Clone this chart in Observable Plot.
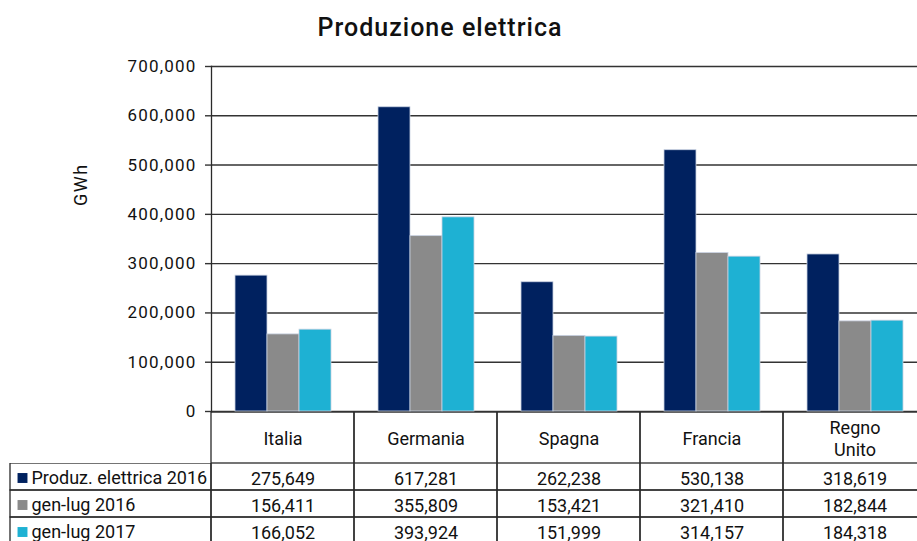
<!DOCTYPE html>
<html>
<head>
<meta charset="utf-8">
<script src="https://cdn.jsdelivr.net/npm/d3@7"></script>
<script src="https://cdn.jsdelivr.net/npm/@observablehq/plot@0.6"></script>
<style>
  html, body { margin: 0; padding: 0; background: #fff; overflow: hidden; width: 917px; height: 541px; }
  body { font-family: Roboto, "Noto Sans", sans-serif; }
  #title { width: 880px; height: 50px; box-sizing: border-box; padding-top: 14px; text-align: center;
           font-size: 25px; font-weight: 500; line-height: 28px; color: #111; letter-spacing: 1px; }
  svg { display: block; max-width: none !important; position: relative; }
  #chart svg:first-child { z-index: 2; }
  [aria-label="y-axis tick label"] { letter-spacing: 1.2px; }
  .ylab { letter-spacing: 1.5px; }
</style>
</head>
<body>
<div id="title">Produzione elettrica</div>
<div id="chart"></div>
<script>
// ---- data ----
const categories = ["Italia", "Germania", "Spagna", "Francia", "Regno Unito"];
const series = ["Produz. elettrica 2016", "gen-lug 2016", "gen-lug 2017"];
const produz2016 = [275649, 617281, 262238, 530138, 318619];
const genlug2016 = [156411, 355809, 153421, 321410, 182844];
const genlug2017 = [166052, 393924, 151999, 314157, 184318];
const yTicks = [0, 100000, 200000, 300000, 400000, 500000, 600000, 700000];
const colors = ["#00215F", "#8A8A8A", "#1EB1D3"];
const yLabel = "GWh";

const seriesValues = [produz2016, genlug2016, genlug2017];
const data = [];
categories.forEach((c, i) => series.forEach((s, j) => data.push({category: c, series: s, value: seriesValues[j][i]})));

const fmt = d3.format(",");
const font = "Roboto, 'Noto Sans', sans-serif";
const W = 917, ML = 211, MR = -9;
const lineColor = "#2a2a2a";

// ---- bar chart ----
const chart = Plot.plot({
  width: W, height: 362,
  marginLeft: ML, marginRight: MR, marginTop: 16, marginBottom: 1,
  style: {fontFamily: font, background: "transparent", overflow: "visible"},
  fx: {domain: categories, padding: 0, axis: null},
  x: {domain: series, paddingInner: 0, paddingOuter: 0.73, axis: null},
  y: {domain: [0, 700000], axis: null},
  color: {domain: series, range: colors},
  marks: [
    Plot.gridY(yTicks, {stroke: "#333", strokeOpacity: 1, strokeWidth: 1.4}),
    Plot.barY(data, {fx: "category", x: "series", y: "value", fill: "series",
                     stroke: "#c9d2e2", strokeWidth: 0.8}),
    Plot.axisY(yTicks, {tickSize: 6, tickPadding: 9, tickFormat: fmt, fontSize: 17,
                        stroke: "#333", strokeWidth: 1.4, fill: "#111", label: null}),
    Plot.frame({anchor: "left", facetAnchor: "left", stroke: lineColor, strokeWidth: 1.3}),
    Plot.text([yLabel], {frameAnchor: "left", facetAnchor: "left", rotate: -90, dx: -130, dy: -33,
                         fontSize: 18, fill: "#111", className: "ylab"})
  ]
});

// ---- table header (category names) ----
const header = Plot.plot({
  width: W, height: 51,
  marginLeft: ML, marginRight: MR, marginTop: 0, marginBottom: 0,
  style: {fontFamily: font, background: "transparent", overflow: "hidden"},
  x: {domain: categories, padding: 0, axis: null},
  marks: [
    Plot.cell(categories, {x: d => d, fill: "none", stroke: lineColor, strokeWidth: 1.3}),
    Plot.text(categories, {x: d => d, frameAnchor: "middle", text: d => d.replace(" ", "\n"),
                           fontSize: 18, lineHeight: 1.2, fill: "#111", dy: 0})
  ]
});

// ---- table body ----
const body = Plot.plot({
  width: W, height: 81,
  marginLeft: ML, marginRight: MR, marginTop: 0, marginBottom: 0,
  style: {fontFamily: font, background: "transparent", overflow: "hidden"},
  x: {domain: categories, padding: 0, axis: null},
  y: {domain: series, padding: 0, axis: null},
  color: {domain: series, range: colors},
  marks: [
    Plot.cell(data, {x: "category", y: "series", fill: "none", stroke: lineColor, strokeWidth: 1.3}),
    Plot.cell(series, {x: () => categories[0], y: d => d, fill: "none", stroke: lineColor, strokeWidth: 1.3,
                       insetLeft: -201, insetRight: 143}),
    Plot.text(data, {x: "category", y: "series", text: d => fmt(d.value), fontSize: 18, fill: "#111", dy: 2}),
    Plot.dot(series, {y: d => d, frameAnchor: "left", dx: -189, dy: 1, symbol: "square", r: 5.6,
                      fill: d => d, stroke: "none"}),
    Plot.text(series, {y: d => d, frameAnchor: "left", dx: -180, textAnchor: "start",
                       fontSize: 18, fill: "#111", dy: 1})
  ]
});

const root = document.getElementById("chart");
root.append(chart, header, body);
</script>
</body>
</html>
